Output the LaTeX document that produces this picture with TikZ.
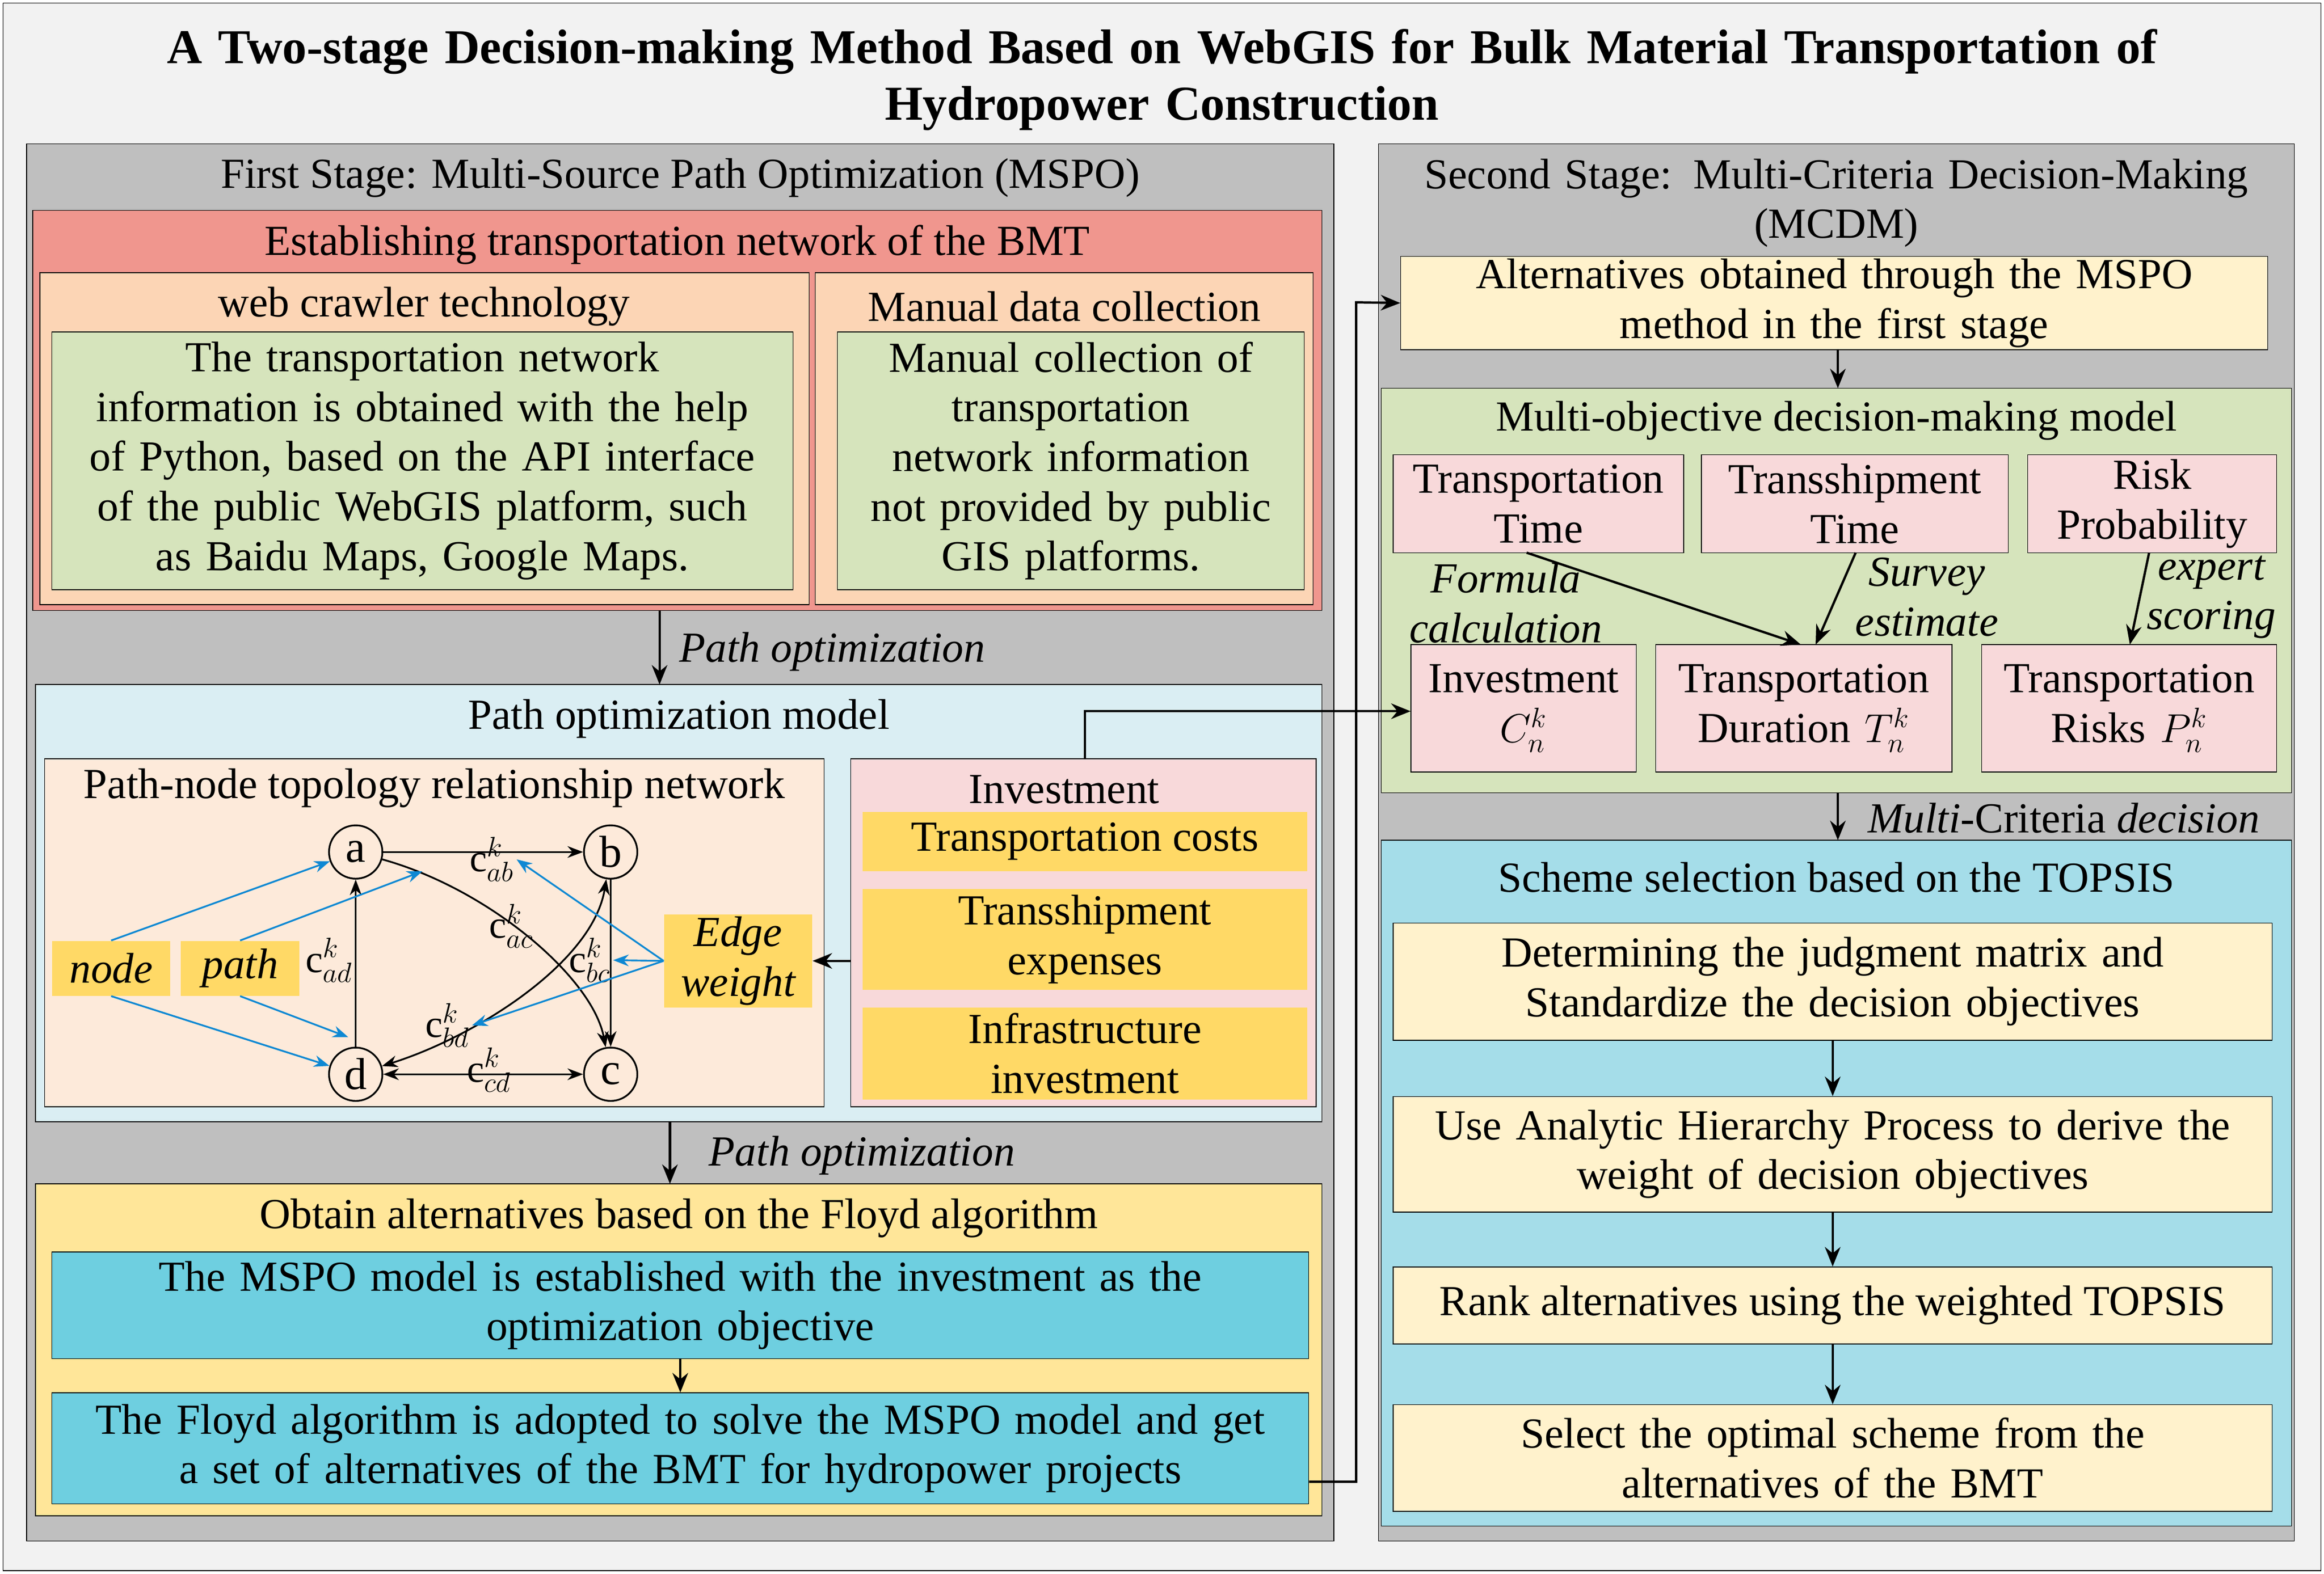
\documentclass[tikz,border=0pt]{standalone}
\usepackage{fontspec}
\setmainfont{Liberation Serif}
\usetikzlibrary{fit,arrows.meta,calc}
\tikzset{
  box/.style={draw=black, fill=#1, inner sep=0pt},
  txt/.style={font=\fontsize{22}{25.5}\selectfont, align=center, inner sep=0pt},
  itx/.style={txt, font=\fontsize{22}{25.5}\selectfont\itshape},
  arr/.style={-{Stealth[length=10pt,width=8pt]}, line width=1.2pt},
  garr/.style={-{Stealth[length=8pt,width=6pt]}, line width=0.9pt},
  barr/.style={-{Stealth[length=8pt,width=6pt]}, line width=0.9pt, draw=cyan!70!blue},
  vert/.style={shape=circle, draw=black, line width=0.9pt, minimum size=36*0.02674cm, inner sep=0pt, font=\fontsize{23}{27}\selectfont},
  lab/.style={font=\fontsize{20}{22}\selectfont, inner sep=1pt},
}
\definecolor{outer}{HTML}{F2F2F2}
\definecolor{panel}{HTML}{BFBFBF}
\definecolor{salmon}{HTML}{F0968E}
\definecolor{peach}{HTML}{FCD5B5}
\definecolor{sage}{HTML}{D6E4BC}
\definecolor{pale}{HTML}{DAEEF3}
\definecolor{linen}{HTML}{FDEADA}
\definecolor{rose}{HTML}{F8D9DA}
\definecolor{gold}{HTML}{FFD966}
\definecolor{butter}{HTML}{FFE699}
\definecolor{teal}{HTML}{6ECFE0}
\definecolor{cream}{HTML}{FFF2CC}
\definecolor{sky}{HTML}{A5DDE9}
\begin{document}
\hyphenpenalty=10000 \exhyphenpenalty=10000
\begin{tikzpicture}[x=0.02674cm, y=-0.02674cm]
	\useasboundingbox (0,0) rectangle (1568,1062);

	% frame and title
	\node[box=outer, fit={(2,2)(1566,1060)}] (frame) {};
	\node[txt, font=\fontsize{25}{29}\selectfont\bfseries, text width=1540*0.02674cm] (title) at (784,54)
		{A Two-stage Decision-making Method Based on WebGIS for Bulk Material Transportation of\\Hydropower Construction};

	% first stage
	\node[box=panel, fit={(18,97)(900,1040)}] (left) {};
	\node[txt] (lefthead) at (459,120) {First Stage: Multi-Source Path Optimization (MSPO)};
	\node[box=salmon, fit={(22,142)(892,412)}] (network) {};
	\node[txt] (nethead) at (457,165) {Establishing transportation network of the BMT};
	\node[box=peach, fit={(27,184)(546,408)}] (crawl) {};
	\node[txt] (crawlhead) at (286,207) {web crawler technology};
	\node[box=sage, fit={(35,224)(535,398)}] (crawlin) {};
	\node[txt, text width=490*0.02674cm] (crawltxt) at (crawlin.center)
		{The transportation network\\information is obtained with the help\\of Python, based on the API interface\\of the public WebGIS platform, such\\as Baidu Maps, Google Maps.};
	\node[box=peach, fit={(550,184)(886,408)}] (manual) {};
	\node[txt] (manualhead) at (718,207) {Manual data collection};
	\node[box=sage, fit={(565,224)(880,398)}] (manualin) {};
	\node[txt, text width=300*0.02674cm] (manualtxt) at (manualin.center)
		{Manual collection of\\transportation\\network information\\not provided by public\\GIS platforms.};

	\node[box=pale, fit={(24,462)(892,757)}] (model) {};
	\node[txt] (modelhead) at (458,485) {Path optimization model};
	\draw[arr] (445,412) -- (445,462);
	\node[itx, anchor=west] (po1) at (458,440) {Path optimization};

	\node[box=linen, fit={(30,512)(556,747)}] (topo) {};
	\node[txt] (topohead) at (293,532) {Path-node topology relationship network};
	\node[box=rose, fit={(574,512)(888,747)}] (invest) {};
	\node[txt] (investhead) at (718,533) {Investment};
	\node[box=gold, draw=none, fit={(582,548)(882,588)}] (cost1) {};
	\node[txt] at (cost1.center) {Transportation costs};
	\node[box=gold, draw=none, fit={(582,600)(882,668)}] (cost2) {};
	\node[txt, text width=290*0.02674cm] at (cost2.center) {Transshipment\\expenses};
	\node[box=gold, draw=none, fit={(582,680)(882,742)}] (cost3) {};
	\node[txt, text width=290*0.02674cm] at (cost3.center) {Infrastructure\\investment};

	% topology graph
	\node[vert] (a) at (240,575) {a};
	\node[vert] (b) at (412,575) {b};
	\node[vert] (c) at (412,725) {c};
	\node[vert] (d) at (240,725) {d};
	\node[box=gold, draw=none, fit={(35,635)(115,672)}] (nodebox) {};
	\node[itx] at (nodebox.center) {node};
	\node[box=gold, draw=none, fit={(122,635)(202,672)}] (pathbox) {};
	\node[itx] at (pathbox.center) {path};
	\node[box=gold, draw=none, fit={(448,617)(548,680)}] (edgebox) {};
	\node[itx, text width=100*0.02674cm] at (edgebox.center) {Edge weight};

	\draw[garr] (a) -- (b);
	\draw[garr] (b) -- (c);
	\draw[garr, <->, >={Stealth[length=8pt,width=6pt]}] (d) -- (c);
	\draw[garr] (d) -- (a);
	\draw[garr] (a) .. controls (330,600) and (400,660) .. (c);
	\draw[garr, <->, >={Stealth[length=8pt,width=6pt]}] (d) .. controls (320,700) and (400,650) .. (b);
	\node[lab] (cab) at (332,580) {c$^k_{ab}$};
	\node[lab] (cbc) at (398,648) {c$^k_{bc}$};
	\node[lab] (ccd) at (330,722) {c$^k_{cd}$};
	\node[lab] (cad) at (222,648) {c$^k_{ad}$};
	\node[lab] (cac) at (345,625) {c$^k_{ac}$};
	\node[lab] (cbd) at (302,692) {c$^k_{bd}$};

	\draw[barr] (nodebox.north) -- (a);
	\draw[barr] (nodebox.south) -- (d);
	\draw[barr] (pathbox.north) -- (285,588);
	\draw[barr] (pathbox.south) -- (235,700);
	\draw[barr] (edgebox.west) -- (cab.east);
	\draw[barr] (edgebox.west) -- (cbc.east);
	\draw[barr] (edgebox.west) -- (cbd.east);
	\draw[arr] (invest.west |- edgebox) -- (edgebox.east);

	\node[box=butter, fit={(24,799)(892,1023)}] (floyd) {};
	\node[txt] (floydhead) at (458,822) {Obtain alternatives based on the Floyd algorithm};
	\draw[arr] (452,757) -- (452,799);
	\node[itx, anchor=west] (po2) at (478,780) {Path optimization};
	\node[box=teal, fit={(35,845)(883,917)}] (mspo) {};
	\node[txt, text width=840*0.02674cm] at (mspo.center) {The MSPO model is established with the investment as the\\optimization objective};
	\node[box=teal, fit={(35,940)(883,1015)}] (solve) {};
	\node[txt, text width=845*0.02674cm] at (solve.center) {The Floyd algorithm is adopted to solve the MSPO model and get\\a set of alternatives of the BMT for hydropower projects};
	\draw[arr] (mspo.south) -- (solve.north);

	% second stage
	\node[box=panel, fit={(930,97)(1548,1040)}] (right) {};
	\node[txt, text width=610*0.02674cm] (righthead) at (1239,137) {Second Stage: Multi-Criteria Decision-Making\\(MCDM)};
	\node[box=cream, fit={(945,173)(1530,236)}] (alt) {};
	\node[txt, text width=580*0.02674cm] at (alt.center) {Alternatives obtained through the MSPO\\method in the first stage};
	\draw[arr] (solve.east |- 0,1000) -- (915,1000) -- (915,204) -- (alt.west);

	\node[box=sage, fit={(932,262)(1546,535)}] (multi) {};
	\node[txt] (multihead) at (1239,284) {Multi-objective decision-making model};
	\draw[arr] (1240,236) -- (1240,262);
	\node[box=rose, fit={(940,307)(1136,373)}] (ttime) {};
	\node[txt, text width=196*0.02674cm] at (ttime.center) {Transportation\\Time};
	\node[box=rose, fit={(1148,307)(1355,373)}] (stime) {};
	\node[txt, text width=200*0.02674cm] at (stime.center) {Transshipment\\Time};
	\node[box=rose, fit={(1368,307)(1536,373)}] (risk) {};
	\node[txt, text width=165*0.02674cm] at (risk.center) {Risk\\Probability};
	\node[box=rose, fit={(952,435)(1104,521)}] (cn) {};
	\node[txt, text width=150*0.02674cm] at (cn.center) {Investment\\$C^k_n$};
	\node[box=rose, fit={(1117,435)(1317,521)}] (tn) {};
	\node[txt, text width=200*0.02674cm] at (tn.center) {Transportation\\Duration $T^k_n$};
	\node[box=rose, fit={(1337,435)(1536,521)}] (pn) {};
	\node[txt, text width=200*0.02674cm] at (pn.center) {Transportation\\Risks $P^k_n$};
	\draw[arr] (1030,373) -- (1215,435);
	\draw[arr] (1252,373) -- (1225,435);
	\draw[arr] (1450,373) -- (1437,435);
	\node[itx] (formula) at (1016,407) {Formula\\calculation};
	\node[itx] (survey) at (1300,403) {Survey\\estimate};
	\node[itx] (expert) at (1492,403) {expert\\scoring};
	\draw[arr] (732,512) -- (732,480) -- (cn.west |- 0,480);

	\node[box=sky, fit={(932,567)(1546,1030)}] (topsis) {};
	\node[txt] (topsishead) at (1239,592) {Scheme selection based on the TOPSIS};
	\draw[arr] (1240,535) -- (1240,567);
	\node[txt, anchor=west] (mcd) at (1260,552) {\itshape Multi\upshape-Criteria \itshape decision};
	\node[box=cream, fit={(940,623)(1533,702)}] (s1) {};
	\node[txt, text width=580*0.02674cm] at (s1.center) {Determining the judgment matrix and\\Standardize the decision objectives};
	\node[box=cream, fit={(940,740)(1533,818)}] (s2) {};
	\node[txt, text width=590*0.02674cm] at (s2.center) {Use Analytic Hierarchy Process to derive the\\weight of decision objectives};
	\node[box=cream, fit={(940,855)(1533,907)}] (s3) {};
	\node[txt] at (s3.center) {Rank alternatives using the weighted TOPSIS};
	\node[box=cream, fit={(940,948)(1533,1020)}] (s4) {};
	\node[txt, text width=580*0.02674cm] at (s4.center) {Select the optimal scheme from the\\alternatives of the BMT};
	\draw[arr] (s1) -- (s2);
	\draw[arr] (s2) -- (s3);
	\draw[arr] (s3) -- (s4);

\end{tikzpicture}
\end{document}
